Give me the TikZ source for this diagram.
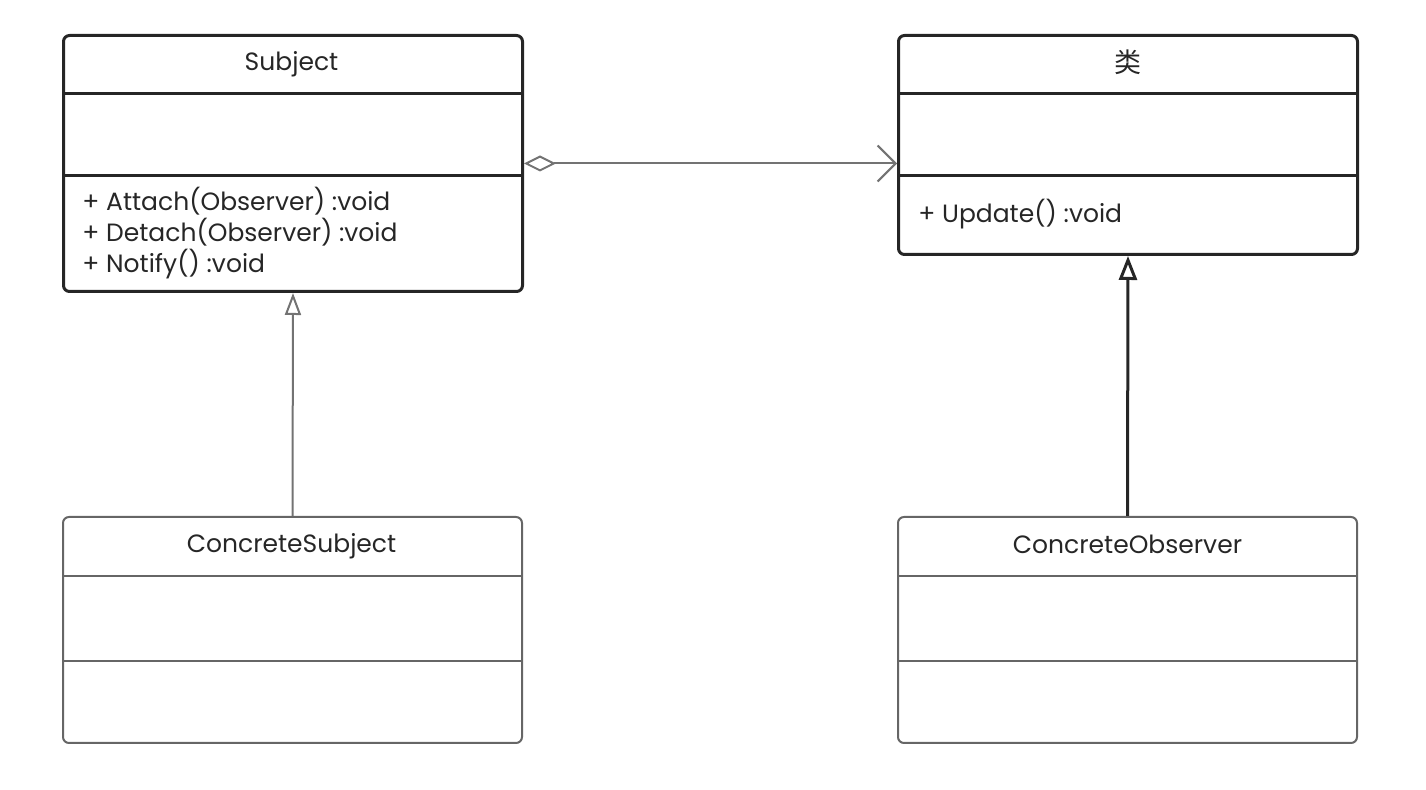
\documentclass[tikz,border=0pt]{standalone}
\usepackage{fontspec}
\setmainfont{Poppins}
\newfontfamily\cjk{Noto Sans CJK SC}
\usetikzlibrary{arrows.meta}
\begin{document}
\begin{tikzpicture}[x=0.5pt,y=-0.5pt,font=\fontsize{12.5}{15}\selectfont]
  \tikzstyle{class}=[draw=black!85, line width=1.5pt, rounded corners=3pt, inner sep=0pt, anchor=north west, minimum width=229.5pt]
  \tikzstyle{plain}=[class, draw=black!60, line width=1pt]
  \tikzstyle{member}=[anchor=west, inner sep=0pt, text=black!85]
  \tikzstyle{title}=[inner sep=0pt, text=black!85]
  \tikzstyle{realize}=[draw=black!55, line width=1pt, -{Triangle[open, length=11pt, width=8pt]}]
  \tikzstyle{inherit}=[draw=black!85, line width=1.5pt, -{Triangle[open, length=12pt, width=9pt]}]
  \tikzstyle{assoc}=[draw=black!55, line width=1pt, {Diamond[open, length=16pt, width=8pt]}-{Straight Barb[length=9pt, width=18pt]}]
  \useasboundingbox (0,0) rectangle (1426,790);
  % abstract classes
  \node[class, minimum height=128pt] (subject) at (62,34) {};
  \node[title] (subjectname) at (291.5,64) {Subject};
  \draw[class] ([yshift=-30pt]subject.north west) -- ([yshift=-30pt]subject.north east);
  \draw[class] ([yshift=-71pt]subject.north west) -- ([yshift=-71pt]subject.north east);
  \node[member] (attach) at (82,201) {+ Attach(Observer) :void};
  \node[member] (detach) at (82,232) {+ Detach(Observer) :void};
  \node[member] (notify) at (82,264) {+ Notify() :void};
  \node[class, minimum height=109.5pt] (observer) at (897,34) {};
  \node[title, font=\fontsize{13.5}{15}\selectfont] (observername) at (1127.5,62) {\cjk 类};
  \draw[class] ([yshift=-30pt]observer.north west) -- ([yshift=-30pt]observer.north east);
  \draw[class] ([yshift=-71pt]observer.north west) -- ([yshift=-71pt]observer.north east);
  \node[member] (update) at (918,214) {+ Update() :void};
  % concrete classes
  \node[plain, minimum height=113pt] (csubject) at (62,516) {};
  \node[title] (csubjectname) at (291.5,546) {ConcreteSubject};
  \draw[plain] ([yshift=-30pt]csubject.north west) -- ([yshift=-30pt]csubject.north east);
  \draw[plain] ([yshift=-72.5pt]csubject.north west) -- ([yshift=-72.5pt]csubject.north east);
  \node[plain, minimum height=113pt] (cobserver) at (897,516) {};
  \node[title] (cobservername) at (1127.5,544) {ConcreteObserver};
  \draw[plain] ([yshift=-30pt]cobserver.north west) -- ([yshift=-30pt]cobserver.north east);
  \draw[plain] ([yshift=-72.5pt]cobserver.north west) -- ([yshift=-72.5pt]cobserver.north east);
  % relations
  \draw[assoc] (subject.east) -- (subject.east -| observer.west);
  \draw[realize] (csubject.north) -- (subject.south);
  \draw[inherit] (cobserver.north) -- (observer.south);
\end{tikzpicture}
\end{document}
